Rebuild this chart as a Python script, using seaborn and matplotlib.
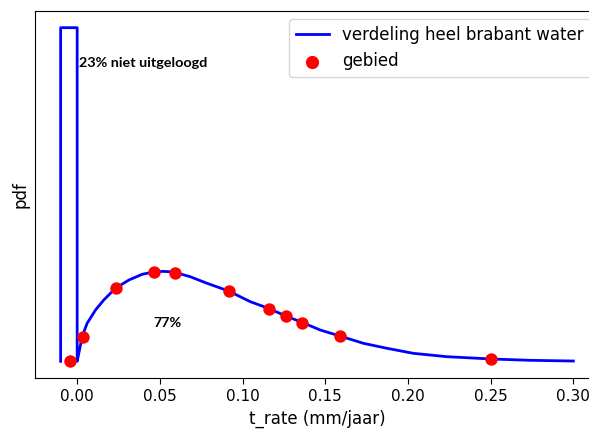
import matplotlib
matplotlib.use("Agg")
import matplotlib.pyplot as plt
import seaborn as sns
import pandas as pd

# rectangle for the 23% "niet uitgeloogd" part (pdf drawn as a bar of width 0.01)
rect_x = [-0.01, -0.01, 0.0, 0.0]
rect_y = [0.0, 23.0, 23.0, 0.0]

# pdf curve "verdeling heel brabant water"
curve_x = [0.0, 0.0016, 0.0030, 0.0060, 0.0111, 0.0161, 0.0231, 0.0312, 0.0393,
           0.0463, 0.0521, 0.0583, 0.0684, 0.0785, 0.0915, 0.1047, 0.1157,
           0.1258, 0.1359, 0.1469, 0.1590, 0.1731, 0.1872, 0.2033, 0.2234,
           0.2506, 0.2737, 0.3000]
curve_y = [0.0, 0.90, 1.70, 2.62, 3.54, 4.23, 5.03, 5.60, 6.00,
           6.16, 6.20, 6.16, 5.83, 5.38, 4.85, 4.11, 3.65,
           3.14, 2.69, 2.16, 1.74, 1.24, 0.90, 0.55, 0.32,
           0.16, 0.07, 0.02]

# points "gebied"
pts_x = [-0.0045, 0.0036, 0.0237, 0.0467, 0.0592, 0.092, 0.1157, 0.1262, 0.1362, 0.159, 0.2502]
pts_y = [0.0, 1.70, 5.07, 6.14, 6.12, 4.85, 3.63, 3.12, 2.67, 1.74, 0.16]

xticks = [0.00, 0.05, 0.10, 0.15, 0.20, 0.25, 0.30]

line_df = pd.DataFrame({"x": rect_x + curve_x, "y": rect_y + curve_y})
pts_df = pd.DataFrame({"x": pts_x, "y": pts_y})

fig = plt.figure(figsize=(5.89, 4.30), dpi=100)
ax = fig.add_axes([35 / 589, 52 / 430, 564 / 589, 367 / 430])

sns.lineplot(data=line_df, x="x", y="y", sort=False, estimator=None, color="blue",
             linewidth=2.0, ax=ax, label="verdeling heel brabant water")
sns.scatterplot(data=pts_df, x="x", y="y", color="red", s=80, linewidth=0,
                ax=ax, label="gebied", zorder=3)

ax.text(0.0014, 20.56, "23% niet uitgeloogd", fontsize=10.4, fontweight="bold",
        family=["Lato", "DejaVu Sans"], ha="left", va="center")
ax.text(0.046, 2.64, "77%", fontsize=10.4, fontweight="bold",
        family=["Lato", "DejaVu Sans"], ha="left", va="center")

ax.set_xlim(-0.0255, 0.3155)
ax.set_ylim(-1.15, 24.15)
ax.set_xticks(xticks)
ax.set_xticklabels([f"{v:.2f}" for v in xticks])
ax.set_yticks([])
ax.tick_params(axis="x", labelsize=11, length=4.5)
ax.set_xlabel("t_rate (mm/jaar)", fontsize=12)
ax.set_ylabel("pdf", fontsize=12)
leg = ax.legend(loc="upper right", fontsize=12)
leg.legend_handles[1].set_sizes([90])

fig.savefig("out.png", dpi=100)
